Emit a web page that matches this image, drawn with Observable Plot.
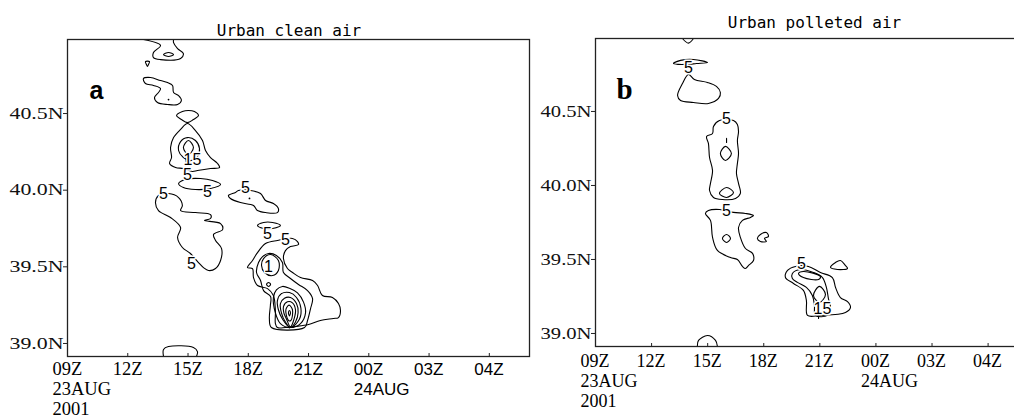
<!DOCTYPE html>
<html><head><meta charset="utf-8">
<script src="https://cdn.jsdelivr.net/npm/d3@7"></script>
<script src="https://cdn.jsdelivr.net/npm/@observablehq/plot@0.6"></script>
<style>
html,body{margin:0;padding:0;background:#fff;overflow:hidden;width:1014px;height:417px}
#pa{position:absolute;left:0;top:0;width:540px;height:417px}
#pb{position:absolute;left:540px;top:0;width:495px;height:417px}
</style></head><body>
<div id="pa"></div><div id="pb"></div>
<script>
// ---- axes ----
const hourTicks = [9, 12, 15, 18, 21, 24, 27, 30];
const hourLabels = ["09Z", "12Z", "15Z", "18Z", "21Z", "00Z", "03Z", "04Z"];
const dateTicks = [9, 24];
const dateLabels = ["23AUG", "24AUG"];
const yearTicks = [9];
const yearLabels = ["2001"];
const latTicks = [39.0, 39.5, 40.0, 40.5];
const latLabels = ["39.0N", "39.5N", "40.0N", "40.5N"];
const hourDomain = [9, 32];
const latDomainA = [38.915, 40.983];
const latDomainB = [38.912, 40.993];
const titleA = "Urban clean air";
const titleB = "Urban polleted air";
const panelLetterA = "a";
const panelLetterB = "b";

// ---- panel a contours: [hour, lat] ----
const a_topOpen = [[12.78,40.983],[13.63,40.944],[13.28,40.898],[13.28,40.865],[13.63,40.852],[14.63,40.859],[14.77,40.891],[14.48,40.924],[14.28,40.963],[14.28,40.983]];
const a_topInner = [[13.78,40.885],[14.03,40.898],[14.28,40.885],[14.03,40.872]];
const a_drop = [[12.88,40.839],[13.08,40.839],[13.03,40.820],[12.98,40.807],[12.93,40.820]];
const a_blob1 = [[12.78,40.728],[13.13,40.735],[13.63,40.715],[13.98,40.702],[14.23,40.683],[14.28,40.637],[14.53,40.617],[14.67,40.585],[14.48,40.559],[13.98,40.559],[13.48,40.572],[13.33,40.604],[13.53,40.637],[13.63,40.663],[13.28,40.683],[12.88,40.696]];
const a_lens = [[14.43,40.487],[14.72,40.513],[15.02,40.520],[15.32,40.513],[15.52,40.487],[15.27,40.461],[14.97,40.441],[14.67,40.461]];
const a_upper = [[14.97,40.435],[15.37,40.389],[15.72,40.324],[15.87,40.259],[16.12,40.213],[16.47,40.174],[16.57,40.148],[16.12,40.141],[15.47,40.128],[15.22,40.122],[14.77,40.141],[14.38,40.148],[14.08,40.174],[14.18,40.213],[14.13,40.278],[14.28,40.343],[14.63,40.396]];
const a_ring10 = [[14.53,40.259],[14.63,40.317],[14.97,40.343],[15.37,40.324],[15.57,40.272],[15.47,40.219],[15.12,40.193],[14.77,40.213]];
const a_ring15 = [[14.77,40.278],[15.02,40.324],[15.27,40.278],[15.02,40.232]];
const a_stem = [[14.87,40.232],[14.92,40.174]];
const a_ell = [[14.53,40.043],[14.87,40.070],[15.62,40.076],[16.22,40.063],[16.62,40.037],[16.12,40.011],[15.37,40.004],[14.77,40.017]];
const a_left = [[14.03,39.978],[14.53,39.952],[14.72,39.900],[14.63,39.867],[15.37,39.854],[16.12,39.841],[16.12,39.815],[15.82,39.802],[16.62,39.782],[16.72,39.743],[16.27,39.711],[16.37,39.672],[16.67,39.619],[16.62,39.541],[16.37,39.489],[16.02,39.476],[15.77,39.495],[15.52,39.528],[15.12,39.587],[14.72,39.626],[14.48,39.691],[14.63,39.756],[14.13,39.822],[13.53,39.867],[13.38,39.919],[13.53,39.965]];
const a_right = [[18.11,39.998],[18.61,39.978],[18.86,39.933],[19.25,39.913],[19.50,39.880],[19.45,39.854],[18.86,39.854],[18.46,39.867],[18.26,39.900],[17.61,39.919],[17.11,39.946],[17.01,39.965],[17.36,39.985],[17.51,39.998]];
const a_small = [[18.46,39.769],[18.76,39.789],[19.21,39.789],[19.60,39.769],[19.21,39.750],[18.76,39.750]];
const a_lower = [[20.20,39.685],[20.45,39.665],[20.50,39.645],[20.10,39.632],[19.85,39.606],[19.75,39.554],[19.95,39.489],[20.20,39.463],[20.60,39.430],[21.20,39.411],[21.45,39.378],[21.69,39.313],[22.19,39.300],[22.49,39.261],[22.59,39.215],[22.49,39.169],[22.24,39.163],[21.59,39.150],[21.00,39.124],[20.35,39.111],[19.85,39.104],[19.45,39.104],[19.35,39.130],[19.35,39.215],[19.25,39.313],[18.96,39.358],[18.46,39.378],[18.26,39.430],[18.21,39.489],[17.96,39.495],[18.21,39.541],[18.46,39.593],[18.86,39.652],[19.45,39.672]];
const a_c10 = [[18.71,39.567],[18.51,39.528],[18.41,39.463],[18.61,39.411],[18.76,39.345],[19.11,39.306],[19.10,39.248],[19.05,39.163],[19.15,39.104],[20.80,39.104],[20.95,39.150],[21.10,39.228],[21.20,39.293],[20.95,39.345],[20.50,39.385],[20.10,39.424],[19.75,39.463],[19.70,39.528],[19.40,39.574],[19.01,39.587]];
const a_one = [[18.76,39.554],[19.11,39.580],[19.50,39.541],[19.50,39.476],[19.21,39.443],[18.81,39.463],[18.66,39.509]];
const a_circ = [[18.91,39.385],[19.01,39.398],[19.11,39.385],[19.01,39.372]];
const a_n1 = [[19.25,39.300],[19.40,39.350],[19.70,39.372],[20.05,39.360],[20.45,39.330],[20.75,39.270],[20.85,39.200],[20.60,39.130],[20.10,39.104],[19.60,39.130],[19.35,39.200]];
const a_n2 = [[19.45,39.280],[19.65,39.325],[20.05,39.332],[20.40,39.300],[20.62,39.230],[20.55,39.160],[20.10,39.104],[19.70,39.160],[19.50,39.220]];
const a_n3 = [[19.60,39.260],[19.80,39.295],[20.10,39.300],[20.40,39.260],[20.48,39.200],[20.35,39.140],[20.10,39.104],[19.85,39.140],[19.65,39.200]];
const a_n4 = [[19.75,39.240],[19.95,39.272],[20.20,39.265],[20.35,39.220],[20.28,39.160],[20.10,39.108],[19.90,39.160],[19.77,39.200]];
const a_n5 = [[19.87,39.220],[20.03,39.250],[20.20,39.220],[20.12,39.150],[20.00,39.150]];
const a_n6 = [[20.00,39.200],[20.05,39.215],[20.10,39.200],[20.05,39.180]];
const a_bottomOpen = [[13.78,38.915],[13.78,38.961],[14.03,38.980],[15.27,38.974],[15.47,38.947],[15.42,38.915]];
const a_dots = [[14.03,40.591],[18.06,39.946],[20.05,39.104]];
const labelHoursA = [15.22, 14.97, 13.78, 15.97, 17.86, 15.17, 18.96, 19.85, 19.01];
const labelLatsA  = [40.198, 40.097, 39.978, 39.991, 40.017, 39.522, 39.717, 39.678, 39.502];
const labelTextsA = ["15", "5", "5", "5", "5", "5", "5", "5", "1"];

// ---- panel b contours ----
const b_topV = [[13.65,40.993],[13.97,40.962],[14.24,40.993]];
const b_flag = [[13.17,40.824],[13.55,40.845],[14.24,40.851],[14.99,40.831],[14.40,40.824],[13.87,40.818],[13.44,40.818]];
const b_loop = [[13.97,40.750],[13.65,40.689],[13.39,40.608],[13.55,40.574],[14.24,40.561],[15.04,40.554],[15.58,40.588],[15.68,40.628],[15.47,40.669],[14.99,40.696],[14.29,40.716]];
const b_col = [[16.38,40.439],[16.59,40.412],[16.65,40.365],[16.59,40.304],[16.65,40.216],[16.59,40.149],[16.54,40.081],[16.65,40.014],[16.75,39.946],[16.49,39.912],[15.79,39.905],[15.31,39.919],[15.10,39.966],[15.15,40.014],[15.26,40.101],[15.10,40.189],[15.04,40.284],[14.94,40.331],[15.26,40.351],[15.31,40.399],[15.63,40.439]];
const b_d1 = [[15.68,40.216],[15.95,40.264],[16.27,40.216],[15.95,40.169]];
const b_tick1 = [[16.01,40.318],[16.01,40.291]];
const b_d2 = [[15.63,39.946],[16.01,39.986],[16.38,39.953],[16.01,39.919]];
const b_mid = [[16.38,39.818],[17.02,39.811],[17.45,39.797],[17.29,39.784],[16.86,39.764],[16.65,39.716],[16.75,39.649],[17.02,39.574],[17.40,39.541],[17.45,39.493],[17.18,39.459],[17.02,39.439],[16.86,39.453],[16.59,39.500],[16.22,39.513],[15.52,39.561],[15.26,39.649],[15.15,39.764],[14.88,39.811],[15.04,39.831],[15.63,39.838]];
const b_d3 = [[15.79,39.642],[16.01,39.669],[16.22,39.642],[16.01,39.615]];
const b_tiny = [[17.66,39.642],[17.82,39.669],[18.14,39.682],[18.25,39.655],[18.04,39.642],[18.14,39.622],[17.82,39.622]];
const b_outer = [[20.39,39.453],[21.03,39.412],[21.67,39.378],[21.84,39.311],[22.10,39.243],[22.48,39.216],[22.64,39.176],[22.37,39.142],[21.03,39.122],[20.34,39.122],[20.28,39.223],[20.12,39.291],[19.59,39.338],[19.16,39.378],[19.27,39.426],[19.70,39.453]];
const b_second = [[19.53,39.405],[19.96,39.432],[20.66,39.412],[21.14,39.378],[21.35,39.311],[21.46,39.236],[21.57,39.176],[21.41,39.122],[20.76,39.122],[20.71,39.189],[20.60,39.257],[20.28,39.311],[19.80,39.345],[19.53,39.372]];
const b_thin = [[19.86,39.405],[20.12,39.419],[21.03,39.385],[20.93,39.365],[20.12,39.378]];
const b_ell = [[20.66,39.257],[20.98,39.318],[21.30,39.264],[20.98,39.209]];
const b_tick2 = [[20.93,39.122],[20.93,39.101]];
const b_mound = [[21.57,39.446],[21.84,39.480],[22.10,39.493],[22.37,39.459],[22.48,39.439],[21.94,39.432]];
const b_bottomOpen = [[14.45,38.912],[14.51,38.953],[14.99,38.986],[15.42,38.953],[15.52,38.912]];
const labelHoursB = [13.97, 16.01, 16.01, 20.02, 21.14];
const labelLatsB  = [40.797, 40.453, 39.831, 39.473, 39.169];
const labelTextsB = ["5", "5", "5", "5", "15"];

// ---- helpers ----
const SERIF = "Liberation Serif, Times New Roman, serif";
const SANS = "Liberation Sans, Arial, sans-serif";
function rows(list) { return list.flatMap((pts, k) => pts.map(([h, l]) => ({h, l, k}))); }
function labels(hs, ls, ts) { return hs.map((h, i) => ({h, l: ls[i], t: ts[i]})); }
function tickText(h, i) {
  let s = hourLabels[i];
  const d = dateTicks.indexOf(h); if (d >= 0) s += "\n" + dateLabels[d];
  const y = yearTicks.indexOf(h); if (y >= 0) s += "\n" + yearLabels[y];
  return s;
}
const tickRows = hourTicks.map((h, i) => ({h, t: tickText(h, i)}));

function panel(o) {
  const marks = [
    Plot.line(rows(o.closed), {x: "h", y: "l", z: "k", curve: "catmull-rom-closed", stroke: "#000", strokeWidth: 1.1, clip: true}),
    Plot.line(rows(o.open), {x: "h", y: "l", z: "k", curve: "catmull-rom", stroke: "#000", strokeWidth: 1.1, clip: true}),
    Plot.dot(o.dots, {x: d => d[0], y: d => d[1], r: 0.9, fill: "#000"}),
    Plot.text(o.labs, {x: "h", y: "l", text: "t", fontFamily: SANS, fontSize: 16, fill: "#000", stroke: "#fff", strokeWidth: 3, paintOrder: "stroke"}),
    Plot.frame({stroke: "#222", strokeWidth: 1.3}),
    Plot.axisY(latTicks, {label: null, tickFormat: d => latLabels[latTicks.indexOf(d)], tickSize: 4, tickPadding: 0, fontSize: 16, fontFamily: SERIF, fill: "#111", stroke: "#222"}),
    Plot.axisX(hourTicks, {label: null, tickSize: -3, tickFormat: () => "", stroke: "#222"}),
    Plot.text([o.title], {frameAnchor: "top", dx: o.titleDx, dy: o.titleDy, lineAnchor: "bottom", fontFamily: "DejaVu Sans Mono, monospace", fontSize: 16, fill: "#000", ariaLabel: "ptitle"}),
    Plot.text([o.letter], {frameAnchor: "top-left", textAnchor: "start", lineAnchor: "bottom", dx: o.letterDx, dy: o.letterDy, fontFamily: o.letterFont, fontWeight: "bold", fontSize: o.letterSize, fill: "#000"})
  ];
  for (const g of o.groups) {
    marks.push(Plot.text(tickRows.filter(g.filter), {x: "h", text: "t", frameAnchor: "bottom", textAnchor: "start", lineAnchor: "top", dx: -15, dy: g.dy, fontFamily: g.font, fontSize: g.size, lineHeight: g.lh, fill: "#000", ariaLabel: g.name}));
  }
  const svg = Plot.plot({
    width: o.width, height: 417,
    marginLeft: o.mL, marginRight: o.mR, marginTop: o.mT, marginBottom: o.mB,
    x: {domain: hourDomain},
    y: {domain: o.latDomain},
    style: {background: "#fff", maxWidth: "none", overflow: "hidden"},
    marks
  });
  const s = d3.select(svg);
  s.selectAll('g[aria-label="y-axis tick label"] text').attr("textLength", o.yLen).attr("lengthAdjust", "spacingAndGlyphs");
  s.selectAll('g[aria-label="ptitle"] text').attr("textLength", o.titleLen).attr("lengthAdjust", "spacingAndGlyphs");
  for (const g of o.groups) s.selectAll(`g[aria-label="${g.name}"] text`).style("letter-spacing", g.ls + "px");
  return svg;
}

document.getElementById("pa").append(panel({
  width: 540, mL: 67, mR: 11, mT: 39, mB: 61, latDomain: latDomainA,
  closed: [a_topInner, a_drop, a_blob1, a_lens, a_upper, a_ring10, a_ring15, a_ell, a_left, a_right, a_small, a_lower, a_c10, a_one, a_circ, a_n1, a_n2, a_n3, a_n4, a_n5, a_n6],
  open: [a_topOpen, a_stem, a_bottomOpen],
  dots: a_dots,
  labs: labels(labelHoursA, labelLatsA, labelTextsA),
  title: titleA, titleDx: -9.5, titleDy: -4, titleLen: 203,
  letter: panelLetterA, letterFont: SANS, letterSize: 25, letterDx: 22, letterDy: 59,
  yLen: 54,
  groups: [
    {name: "xs", filter: d => d.h < 21, font: SERIF, size: 18.5, lh: 1.06, ls: 1.4, dy: 5},
    {name: "xa", filter: d => d.h >= 21, font: SANS, size: 17, lh: 1.15, ls: 1, dy: 5}
  ]
}));

document.getElementById("pb").append(panel({
  width: 495, mL: 55, mR: 10, mT: 38, mB: 71, latDomain: latDomainB,
  closed: [b_flag, b_loop, b_col, b_d1, b_d2, b_mid, b_d3, b_tiny, b_outer, b_second, b_thin, b_ell, b_mound],
  open: [b_topV, b_tick1, b_tick2, b_bottomOpen],
  dots: [],
  labs: labels(labelHoursB, labelLatsB, labelTextsB),
  title: titleB, titleDx: 4, titleDy: -11, titleLen: 228,
  letter: panelLetterB, letterFont: SERIF, letterSize: 29, letterDx: 21, letterDy: 60,
  yLen: 51,
  groups: [
    {name: "xb", filter: d => true, font: SERIF, size: 18, lh: 1.12, ls: 1.3, dy: 6}
  ]
}));
</script></body></html>
